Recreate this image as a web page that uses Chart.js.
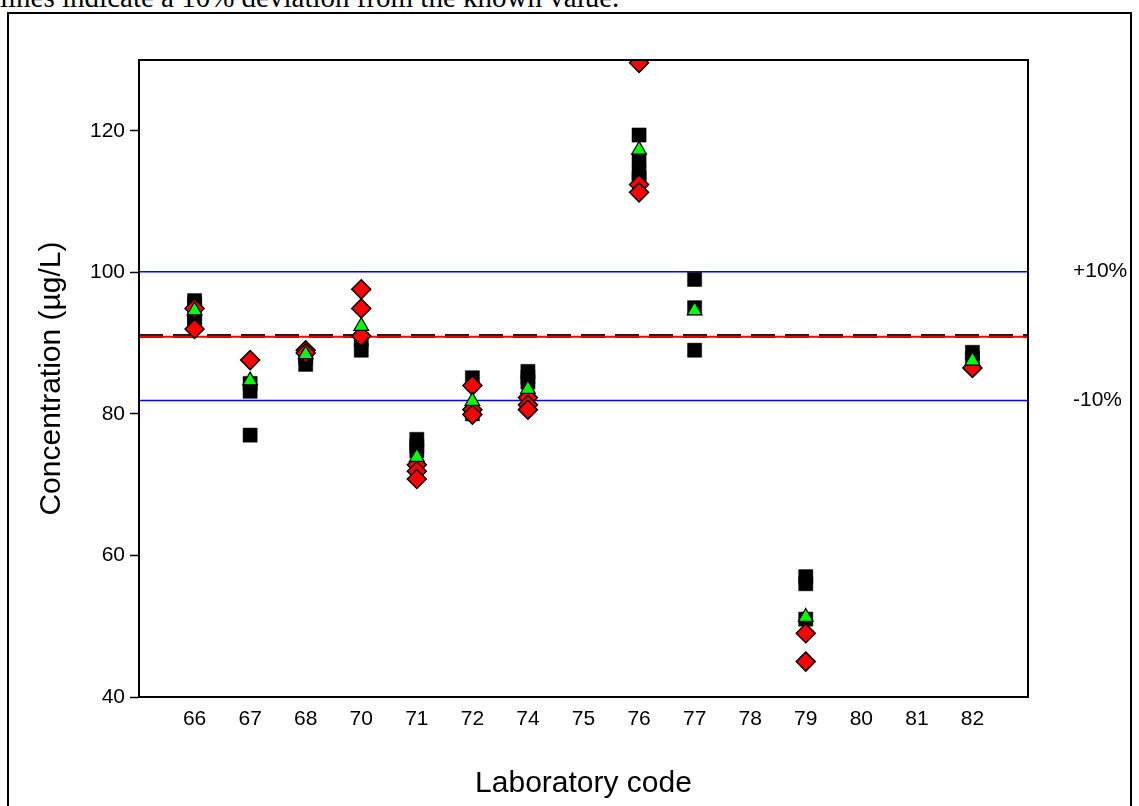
<!DOCTYPE html>
<html>
<head>
<meta charset="utf-8">
<script src="https://cdn.jsdelivr.net/npm/chart.js@4.4.1/dist/chart.umd.min.js"></script>
<style>
  body { margin: 0; background: #fff; overflow: hidden; }
  #caption {
    position: absolute; left: 0; top: -17px; margin: 0;
    font-family: "Liberation Serif", "Times New Roman", serif;
    font-size: 29px; line-height: 29px; white-space: nowrap; color: #000;
  }
  #frame {
    position: absolute; left: 7px; top: 12px; width: 1121px; height: 820px;
    border: 2px solid #000;
  }
  #wrap { position: absolute; left: 0; top: 0; width: 1139px; height: 806px; }
</style>
</head>
<body>
<p id="caption">lines indicate a 10% deviation from the known value.</p>
<div id="frame"></div>
<div id="wrap"><canvas id="grafico" width="1139" height="806"></canvas></div>
<script>
// laboratory codes along the x axis
const labs = ['66','67','68','70','71','72','74','75','76','77','78','79','80','81','82'];

// black squares
const squareLab  = ['66','66','66','66','67','67','67','68','68','70','70','71','71','71','72','72','74','74','74','76','76','76','76','77','77','77','79','79','79','82','82'];
const squareConc = [96.0,95.5,93.5,93.0,84.3,83.2,77.0,88.0,87.0,90.5,89.0,76.4,75.5,74.8,85.1,80.0,86.0,85.2,84.5,119.4,115.9,114.0,113.3,99.0,95.0,89.0,57.0,56.0,51.0,88.7,87.8];

// green triangles
const triLab  = ['66','67','68','70','71','72','74','76','77','79','82'];
const triConc = [94.6,84.7,88.4,92.4,73.9,81.8,83.5,117.3,94.6,51.3,87.5];

// red diamonds
const diaLab  = ['66','66','67','68','68','70','70','70','71','71','71','72','72','72','74','74','74','76','76','76','79','79','82'];
const diaConc = [94.9,92.0,87.6,89.0,88.6,97.6,94.9,91.0,72.8,71.9,70.8,84.0,80.6,79.9,82.3,81.3,80.6,129.6,112.4,111.3,49.0,45.0,86.5];

// reference lines
const knownValue = 91.0;
const meanValue = 90.9;
const upperLimit = 100.1;
const lowerLimit = 81.9;

const yTicks = [40, 60, 80, 100, 120];
const xMin = 0, xMax = labs.length + 1;

function puntos(labList, conc) {
  return conc.map((v, i) => ({ x: labs.indexOf(labList[i]) + 1, y: v }));
}
function linea(v) {
  return [{ x: xMin, y: v }, { x: xMax, y: v }];
}

// marco del área del gráfico y textos +10% / -10%
const marco = {
  id: 'marco',
  afterDatasetsDraw(chart) {
    const { ctx, chartArea, scales } = chart;
    ctx.save();
    ctx.strokeStyle = '#000';
    ctx.lineWidth = 2;
    ctx.strokeRect(chartArea.left, chartArea.top, chartArea.right - chartArea.left, chartArea.bottom - chartArea.top);
    ctx.fillStyle = '#000';
    ctx.font = '21px "Liberation Sans", Arial, sans-serif';
    ctx.textBaseline = 'middle';
    ctx.fillText('+10%', chartArea.right + 45, scales.y.getPixelForValue(upperLimit));
    ctx.fillText('-10%', chartArea.right + 45, scales.y.getPixelForValue(lowerLimit));
    ctx.restore();
  }
};

const lineStyle = { type: 'line', pointRadius: 0, fill: false, tension: 0 };

new Chart(document.getElementById('grafico'), {
  type: 'scatter',
  data: {
    datasets: [
      { label: 'triangles', data: puntos(triLab, triConc), order: 0,
        pointStyle: 'triangle', pointRadius: 8.5, backgroundColor: '#00ff00', borderColor: '#000', borderWidth: 1.2 },
      { label: 'diamonds', data: puntos(diaLab, diaConc), order: 1,
        pointStyle: 'rectRot', pointRadius: 9.5, backgroundColor: '#ff0000', borderColor: '#000', borderWidth: 1.5 },
      { label: 'squares', data: puntos(squareLab, squareConc), order: 2,
        pointStyle: 'rect', pointRadius: 10, backgroundColor: '#000', borderColor: '#000', borderWidth: 0.5 },
      Object.assign({ label: 'mean', data: linea(meanValue), order: 3, borderColor: '#ff0000', borderWidth: 2 }, lineStyle),
      Object.assign({ label: 'known', data: linea(knownValue), order: 4, borderColor: '#1a1a1a', borderWidth: 4, borderDash: [24, 10] }, lineStyle),
      Object.assign({ label: '+10%', data: linea(upperLimit), order: 5, borderColor: '#0000ff', borderWidth: 1.5 }, lineStyle),
      Object.assign({ label: '-10%', data: linea(lowerLimit), order: 6, borderColor: '#0000ff', borderWidth: 1.5 }, lineStyle)
    ]
  },
  options: {
    responsive: false,
    animation: false,
    events: [],
    layout: { padding: { left: 30, right: 111, top: 60, bottom: 0 } },
    plugins: { legend: { display: false }, tooltip: { enabled: false } },
    scales: {
      x: {
        type: 'linear', min: xMin, max: xMax,
        afterBuildTicks: (axis) => { axis.ticks = labs.map((l, i) => ({ value: i + 1 })); },
        afterFit: (axis) => { axis.height = 806 - 697; },
        ticks: { callback: (v) => labs[v - 1], color: '#000', font: { size: 21, family: 'Liberation Sans' }, padding: 10, maxRotation: 0, autoSkip: false },
        grid: { display: true, drawOnChartArea: false, drawTicks: false },
        border: { color: '#000', width: 2 },
        title: { display: true, text: 'Laboratory code', color: '#000', font: { size: 30, family: 'Liberation Sans' }, padding: { top: 22 } }
      },
      y: {
        min: 40, max: 130,
        afterBuildTicks: (axis) => { axis.ticks = yTicks.map((v) => ({ value: v })); },
        afterFit: (axis) => { axis.width = 139 - 30; },
        ticks: { color: '#000', font: { size: 21, family: 'Liberation Sans' }, padding: 5 },
        grid: { display: true, drawOnChartArea: false, drawTicks: true, tickLength: 9, tickColor: '#000', tickWidth: 1.5 },
        border: { color: '#000', width: 2 },
        title: { display: true, text: 'Concentration (µg/L)', color: '#000', font: { size: 30, family: 'Liberation Sans' }, padding: { bottom: 12 } }
      }
    }
  },
  plugins: [marco]
});
</script>
</body>
</html>
